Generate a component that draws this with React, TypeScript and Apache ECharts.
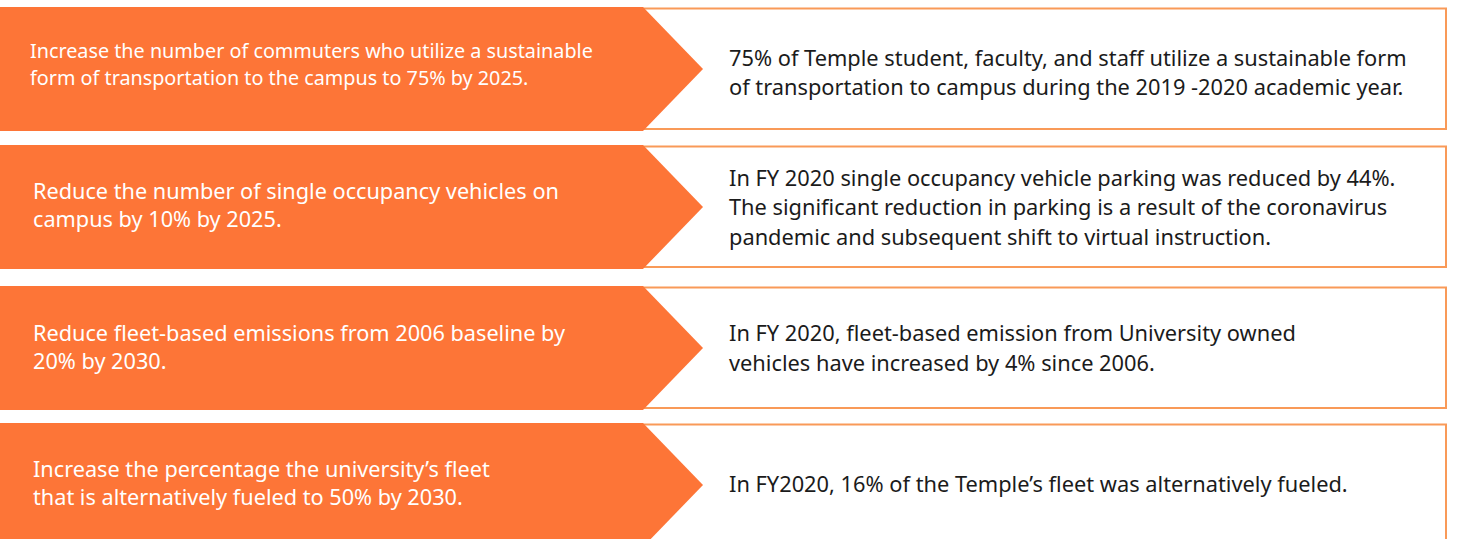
import React, { useEffect, useRef } from "react";
import * as echarts from "echarts";

const goals: string[][] = [
  ["Increase the number of commuters who utilize a sustainable", "form of transportation to the campus to 75% by 2025."],
  ["Reduce the number of single occupancy vehicles on", "campus by 10% by 2025."],
  ["Reduce fleet-based emissions from 2006 baseline by", "20% by 2030."],
  ["Increase the percentage the university\u2019s fleet", "that is alternatively fueled to 50% by 2030."],
];

const progress: string[][] = [
  ["75% of Temple student, faculty, and staff utilize a sustainable form", "of transportation to campus during the 2019 -2020 academic year."],
  [
    "In FY 2020 single occupancy vehicle parking was reduced by 44%.",
    "The significant reduction in parking is a result of the coronavirus",
    "pandemic and subsequent shift to virtual instruction.",
  ],
  ["In FY 2020, fleet-based emission from University owned", "vehicles have increased by 4% since 2006."],
  ["In FY2020, 16% of the Temple\u2019s fleet was alternatively fueled."],
];

const rowTops = [7, 145, 286, 423];
const leftX = [30, 33, 33, 33];
const leftSize = [19.8, 21.7, 21.7, 21.7];
const leftLH = [27, 28, 28, 28];
const leftOff = [-5.5, -3, -1.5, -3];
const rightOff = [3, -0.5, -0.5, -2];

const ORANGE = "#FD7537";
const BORDER = "#F99A58";
const FONT = "'Noto Sans', sans-serif";

export default function App() {
  const ref = useRef<HTMLDivElement>(null);
  useEffect(() => {
    if (!ref.current) return;
    const chart = echarts.init(ref.current, null, { renderer: "svg" });
    const H = 124;
    const elements: any[] = [];
    rowTops.forEach((top, i) => {
      elements.push({
        type: "rect",
        shape: { x: 643, y: top + 1.5, width: 803, height: 120.5 },
        style: { fill: "#fff", stroke: BORDER, lineWidth: 2 },
        z: 1,
      });
      elements.push({
        type: "polygon",
        shape: {
          points: [
            [0, top],
            [643, top],
            [703, top + H / 2],
            [643, top + H],
            [0, top + H],
          ],
        },
        style: { fill: ORANGE },
        z: 2,
      });
      const cy = top + H / 2;
      const gl = goals[i];
      gl.forEach((line, k) => {
        elements.push({
          type: "text",
          x: leftX[i],
          y: cy + leftOff[i] + (k - (gl.length - 1) / 2) * leftLH[i],
          style: {
            text: line,
            fill: "#fff",
            fontSize: leftSize[i],
            fontFamily: FONT,
            align: "left",
            verticalAlign: "middle",
          },
          z: 3,
        });
      });
      const pr = progress[i];
      const lhR = 29.5;
      pr.forEach((line, k) => {
        elements.push({
          type: "text",
          x: 729,
          y: cy + rightOff[i] + (k - (pr.length - 1) / 2) * lhR,
          style: {
            text: line,
            fill: "#1b1b1b",
            fontSize: 21.8,
            fontFamily: FONT,
            align: "left",
            verticalAlign: "middle",
          },
          z: 3,
        });
      });
    });
    chart.setOption({
      animation: false,
      backgroundColor: "#ffffff",
      graphic: { elements },
    });
    return () => chart.dispose();
  }, []);
  return (
    <div
      ref={ref}
      style={{ position: "fixed", left: 0, top: 0, width: 1457, height: 539, background: "#fff" }}
    />
  );
}
